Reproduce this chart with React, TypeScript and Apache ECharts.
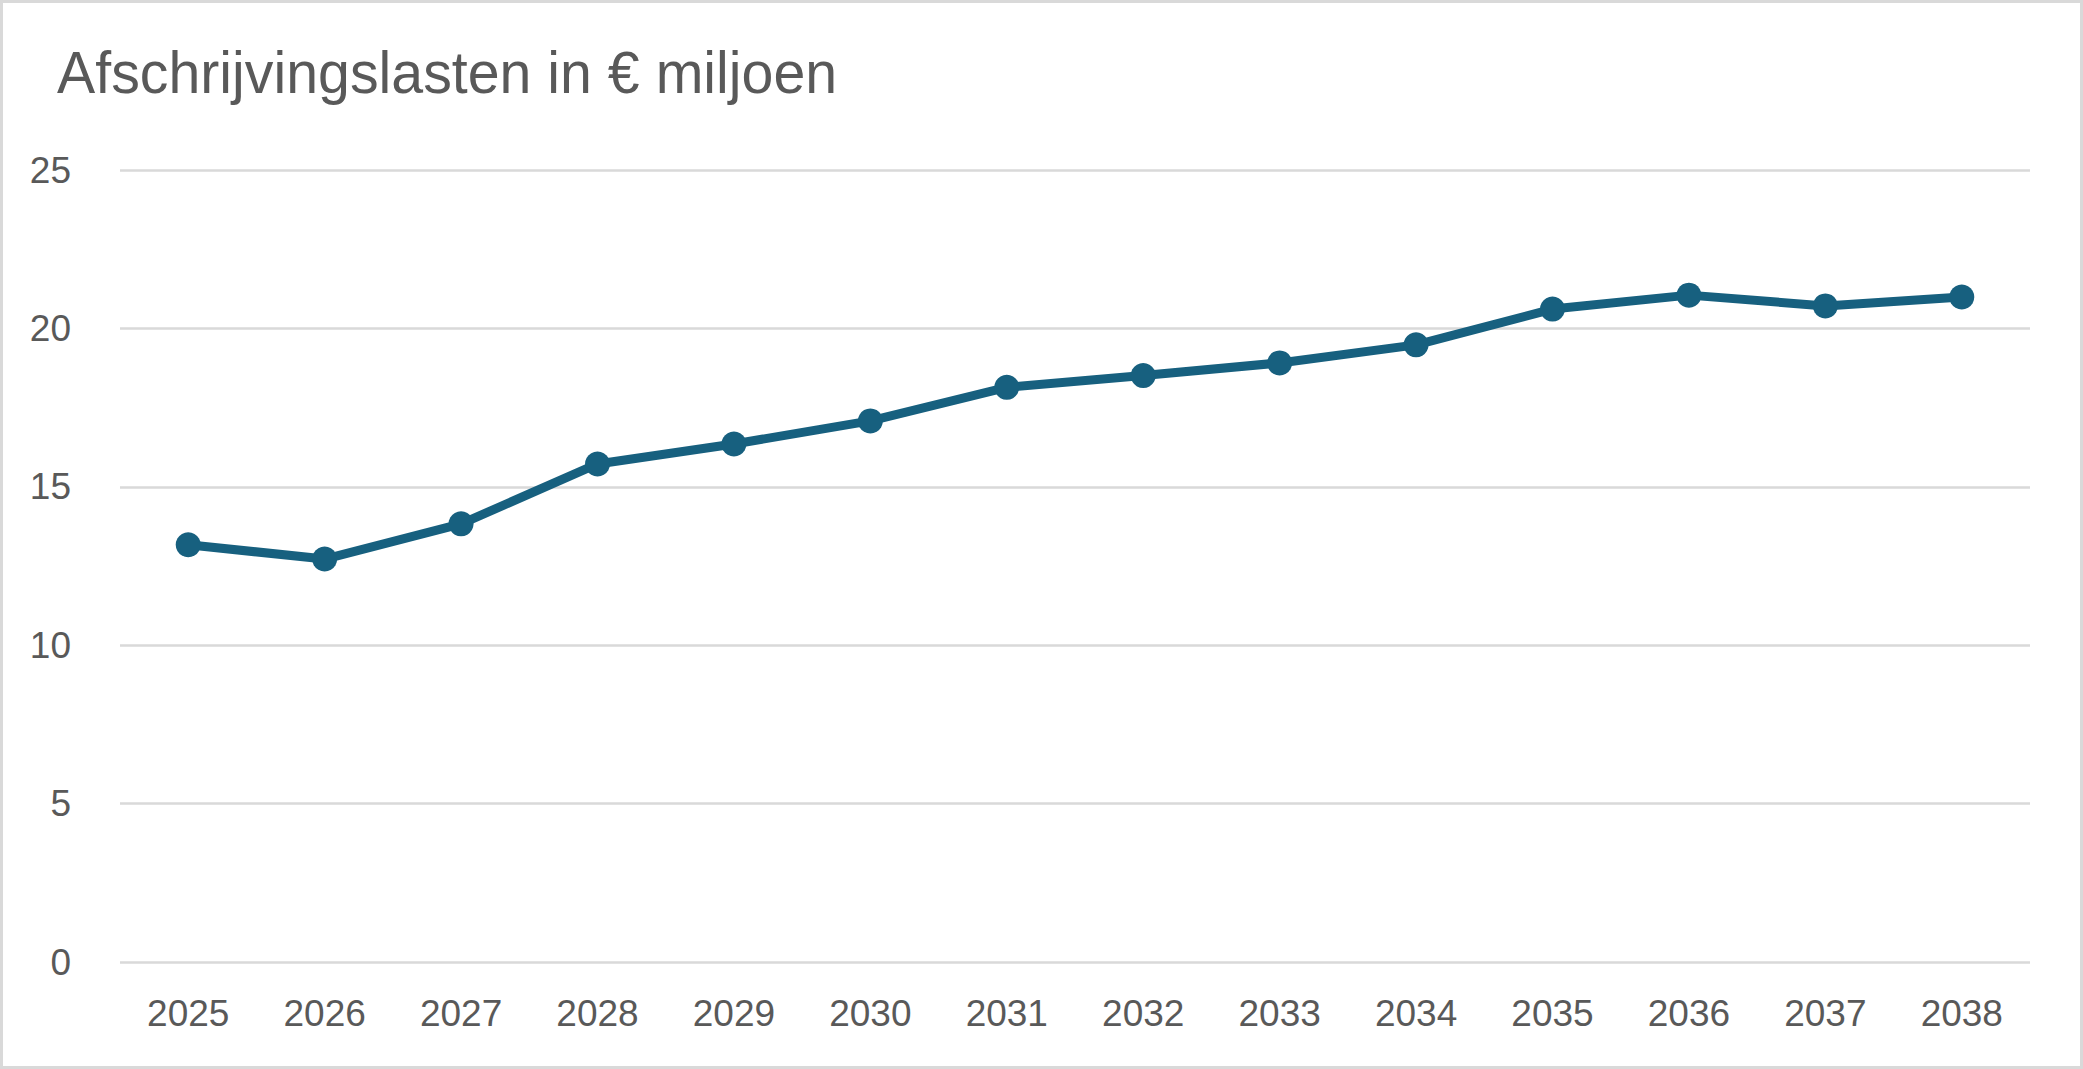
import React, { useEffect, useRef } from "react";
import * as echarts from "echarts";

const titleText = "Afschrijvingslasten in € miljoen";
const years = ["2025", "2026", "2027", "2028", "2029", "2030", "2031", "2032", "2033", "2034", "2035", "2036", "2037", "2038"];
const values = [13.17, 12.72, 13.83, 15.72, 16.35, 17.08, 18.14, 18.51, 18.91, 19.48, 20.61, 21.05, 20.71, 20.99];
const yMin = 0;
const yMax = 25;
const yInterval = 5;

export default function App() {
  const ref = useRef<HTMLDivElement>(null);
  useEffect(() => {
    document.body.style.margin = "0";
    const chart = echarts.init(ref.current!, undefined, { renderer: "svg" });
    chart.setOption({
      animation: false,
      backgroundColor: "#ffffff",
      graphic: [
        {
          type: "rect",
          shape: { x: 1.5, y: 1.5, width: 2080, height: 1066 },
          style: { fill: "none", stroke: "#d9d9d9", lineWidth: 3 },
          silent: true,
        },
        {
          type: "text",
          x: 57,
          y: 72,
          scaleX: 0.955,
          style: {
            text: titleText,
            font: "60px 'Liberation Sans', Arial, sans-serif",
            fill: "#595959",
            align: "left",
            verticalAlign: "middle",
          },
          silent: true,
        },
      ],
      grid: { left: 120, right: 53, top: 170, bottom: 107, containLabel: false },
      xAxis: {
        type: "category",
        data: years,
        boundaryGap: true,
        axisLine: { show: false },
        axisTick: { show: false },
        axisLabel: { color: "#595959", fontSize: 37, fontFamily: "Liberation Sans, Arial, sans-serif", margin: 33 },
        splitLine: { show: false },
      },
      yAxis: {
        type: "value",
        min: yMin,
        max: yMax,
        interval: yInterval,
        axisLine: { show: false },
        axisTick: { show: false },
        axisLabel: { color: "#595959", fontSize: 37, fontFamily: "Liberation Sans, Arial, sans-serif", margin: 49 },
        splitLine: { lineStyle: { color: "#d9d9d9", width: 2.5 } },
      },
      series: [
        {
          type: "line",
          data: values,
          symbol: "circle",
          symbolSize: 25,
          lineStyle: { color: "#17607f", width: 9 },
          itemStyle: { color: "#17607f" },
        },
      ],
    });
    return () => chart.dispose();
  }, []);
  return <div ref={ref} style={{ width: 2083, height: 1069 }} />;
}
